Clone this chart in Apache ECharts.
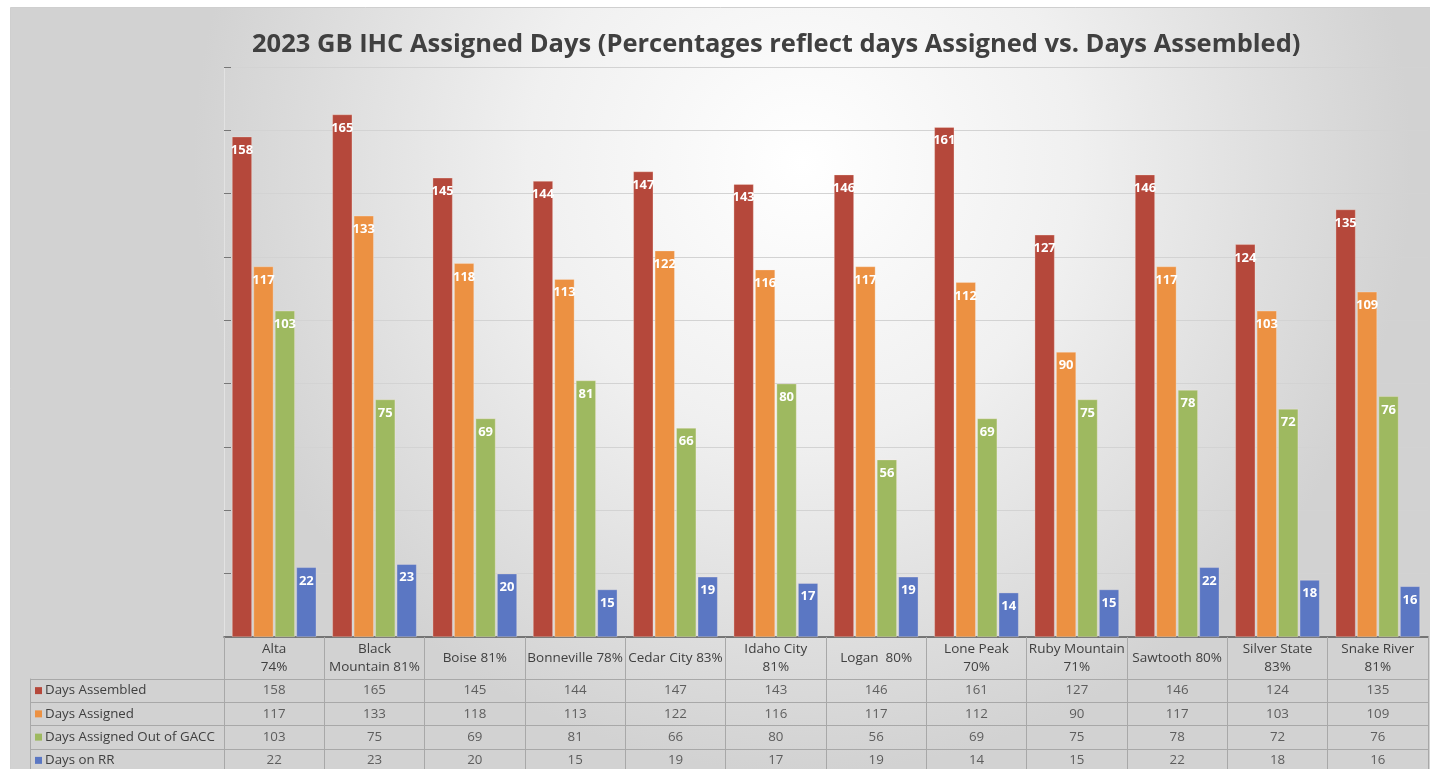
<!DOCTYPE html>
<html>
<head>
<meta charset="utf-8">
<script src="https://cdn.jsdelivr.net/npm/echarts@6/dist/echarts.min.js"></script>
<style>
html,body{margin:0;padding:0;background:#fff;}
#main{width:1430px;height:769px;}
</style>
</head>
<body>
<div id="main"></div>
<script>
const titleText = '2023 GB IHC Assigned Days (Percentages reflect days Assigned vs. Days Assembled)';
const categories = ['Alta\n74%', 'Black\nMountain 81%', 'Boise 81%', 'Bonneville 78%', 'Cedar City 83%', 'Idaho City\n81%', 'Logan  80%', 'Lone Peak\n70%', 'Ruby Mountain\n71%', 'Sawtooth 80%', 'Silver State\n83%', 'Snake River\n81%'];
const seriesNames = ['Days Assembled', 'Days Assigned', 'Days Assigned Out of GACC', 'Days on RR'];
const daysAssembled = [158, 165, 145, 144, 147, 143, 146, 161, 127, 146, 124, 135];
const daysAssigned = [117, 133, 118, 113, 122, 116, 117, 112, 90, 117, 103, 109];
const daysOutOfGACC = [103, 75, 69, 81, 66, 80, 56, 69, 75, 78, 72, 76];
const daysOnRR = [22, 23, 20, 15, 19, 17, 19, 14, 15, 22, 18, 16];
const yTicks = { min: 0, max: 180, interval: 20 };

const colors = ['#B5483B', '#EC9142', '#9EB960', '#5B77C3'];
const FONT = '"Open Sans", "Liberation Sans", sans-serif';
const allSeries = [daysAssembled, daysAssigned, daysOutOfGACC, daysOnRR];

const tableData = [];
allSeries.forEach((arr, r) => arr.forEach((v, c) => tableData.push([c, r, v])));

const rich = { t: { fontSize: 13.3, color: '#404040', fontFamily: FONT, padding: [0, 0, 0, 3] } };
colors.forEach((col, i) => { rich['s' + i] = { width: 7, height: 7, backgroundColor: col }; });

const chart = echarts.init(document.getElementById('main'));
chart.setOption({
  animation: false,
  graphic: [{
    type: 'rect', left: 10, top: 7, z: -100, silent: true,
    shape: { width: 1440, height: 780 },
    style: {
      stroke: '#cfcfcf', lineWidth: 1,
      fill: { type: 'radial', x: 0.55, y: 0.2, r: 0.78,
        colorStops: [{ offset: 0, color: '#ffffff' }, { offset: 0.45, color: '#f0f0f0' }, { offset: 1, color: '#d2d2d2' }] }
    }
  }],
  title: {
    text: titleText, left: 247, top: 27,
    textStyle: { fontFamily: FONT, fontSize: 25.5, fontWeight: 'bold', color: '#404040' }
  },
  grid: [
    { left: 224, right: 2, top: 67, bottom: 132, containLabel: false, outerBoundsMode: 'none' },
    { left: 224, right: 2, top: 679, height: 93, containLabel: false, outerBoundsMode: 'none' }
  ],
  xAxis: [
    {
      type: 'category', gridIndex: 0, data: categories,
      axisLine: { lineStyle: { color: '#555', width: 1.5 } },
      axisTick: { show: true, length: 136, interval: 0, lineStyle: { color: '#a8a8a8' } },
      axisLabel: { interval: 0, margin: 21, verticalAlign: 'middle', lineHeight: 18, fontSize: 13.5, color: '#404040', fontFamily: FONT }
    },
    {
      type: 'category', gridIndex: 1, data: categories, position: 'top',
      axisLine: { show: true, lineStyle: { color: '#a8a8a8' } },
      axisTick: { show: false }, axisLabel: { show: false }
    }
  ],
  yAxis: [
    {
      type: 'value', gridIndex: 0, min: yTicks.min, max: yTicks.max, interval: yTicks.interval,
      axisLabel: { show: false },
      axisLine: { show: true, lineStyle: { color: '#e2e2e2' } },
      axisTick: { show: true, inside: true, length: 7, lineStyle: { color: '#777' } },
      splitLine: { lineStyle: { color: '#d3d3d3' } }
    },
    {
      type: 'category', gridIndex: 1, data: seriesNames, inverse: true,
      axisLine: { show: true, lineStyle: { color: '#a8a8a8' } },
      axisTick: { show: true, length: 194, lineStyle: { color: '#a8a8a8' } },
      splitLine: { show: true, lineStyle: { color: '#a8a8a8' } },
      axisLabel: {
        align: 'left', margin: 189,
        formatter: (v, i) => '{s' + i + '|}{t|' + v + '}', rich: rich
      }
    },
    {
      type: 'category', gridIndex: 1, data: seriesNames, inverse: true, position: 'left', offset: 194,
      axisLine: { show: true, lineStyle: { color: '#a8a8a8' } },
      axisTick: { show: false }, axisLabel: { show: false }, splitLine: { show: false }
    }
  ],
  series: allSeries.map((arr, i) => ({
    name: seriesNames[i], type: 'bar', xAxisIndex: 0, yAxisIndex: 0, data: arr,
    barGap: '8%', barCategoryGap: '16%',
    itemStyle: { color: colors[i], borderColor: 'rgba(255,240,230,0.6)', borderWidth: 0.5 },
    label: { show: true, position: 'insideTop', distance: 7, color: '#fff', fontWeight: 'bold', fontSize: 13, fontFamily: FONT }
  })).concat([{
    name: 'table', type: 'scatter', xAxisIndex: 1, yAxisIndex: 1, data: tableData,
    symbolSize: 1, silent: true, itemStyle: { color: 'rgba(0,0,0,0)' },
    label: { show: true, position: 'inside', formatter: p => p.data[2], fontSize: 13.3, color: '#404040', fontFamily: FONT }
  }])
});
</script>
</body>
</html>
